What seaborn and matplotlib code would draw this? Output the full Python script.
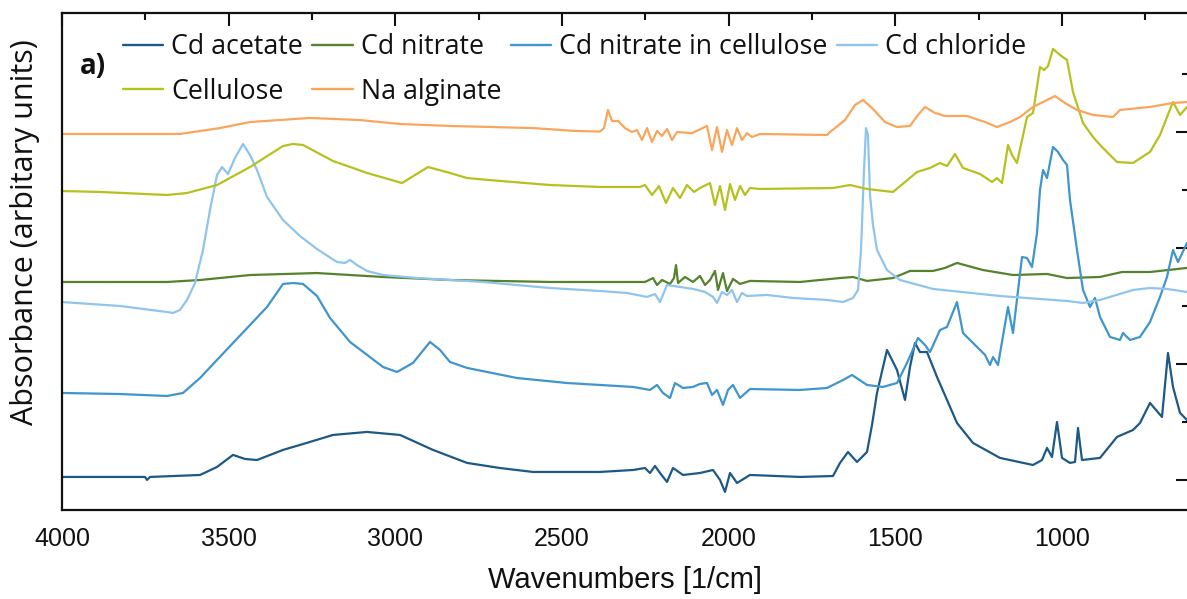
import matplotlib
matplotlib.use("Agg")
import matplotlib.pyplot as plt
from matplotlib.lines import Line2D
from matplotlib.ticker import FixedLocator, MultipleLocator
from matplotlib import font_manager
import numpy as np
import pandas as pd
import seaborn as sns

# ---------------- data ----------------
series_names = ["Cd acetate", "Cd nitrate", "Cd nitrate in cellulose",
                "Cd chloride", "Cellulose", "Na alginate"]
series_colors = ["#1d5987", "#55822c", "#3f95cc", "#8fc5ec", "#b6c11f", "#f9a65c"]

wn_acetate = [4000, 3886, 3751, 3745, 3736, 3586, 3535, 3487, 3451, 3415, 3337, 3286, 3187, 3085, 2986,
              2887, 2785, 2686, 2587, 2386, 2287, 2251, 2236, 2221, 2206, 2185, 2167, 2137, 2086, 2047,
              2026, 2011, 1996, 1975, 1936, 1786, 1687, 1666, 1642, 1615, 1585, 1570, 1555, 1525, 1495,
              1471, 1456, 1441, 1426, 1405, 1375, 1345, 1315, 1267, 1186, 1087, 1060, 1045, 1030, 1015,
              1000, 976, 961, 952, 940, 886, 835, 787, 766, 736, 700, 682, 667, 646, 625]
abs_acetate = [0.026, 0.026, 0.026, 0.0, 0.026, 0.043, 0.112, 0.216, 0.181, 0.172, 0.259, 0.302, 0.388, 0.414, 0.388,
               0.259, 0.147, 0.103, 0.069, 0.069, 0.086, 0.103, 0.06, 0.121, 0.06, -0.017, 0.103, 0.043, 0.06, 0.086,
               0.0, -0.103, 0.06, -0.026, 0.043, 0.026, 0.034, 0.147, 0.241, 0.155, 0.241, 0.474, 0.75, 1.121, 0.948,
               0.69, 0.974, 1.181, 1.103, 1.103, 0.888, 0.69, 0.491, 0.319, 0.19, 0.129, 0.172, 0.276, 0.198, 0.5,
               0.19, 0.147, 0.155, 0.448, 0.172, 0.19, 0.371, 0.431, 0.491, 0.664, 0.543, 1.095, 0.802, 0.578, 0.517]

wn_nitrate = [4000, 3685, 3586, 3436, 3235, 3037, 2836, 2536, 2251, 2227, 2215, 2200, 2176, 2164, 2158,
              2152, 2131, 2107, 2086, 2071, 2056, 2041, 2032, 2017, 2005, 1987, 1966, 1936, 1786, 1666,
              1627, 1585, 1507, 1456, 1387, 1351, 1315, 1237, 1147, 1045, 985, 886, 820, 736, 625]
abs_nitrate = [1.707, 1.707, 1.724, 1.767, 1.784, 1.75, 1.724, 1.707, 1.707, 1.741, 1.681, 1.724, 1.69, 1.741, 1.853,
               1.698, 1.75, 1.707, 1.759, 1.681, 1.724, 1.802, 1.638, 1.784, 1.629, 1.733, 1.69, 1.716, 1.707, 1.741,
               1.75, 1.716, 1.741, 1.802, 1.802, 1.828, 1.871, 1.81, 1.767, 1.776, 1.741, 1.75, 1.793, 1.793, 1.828]

wn_nitrate_cell = [4000, 3826, 3685, 3637, 3586, 3487, 3385, 3337, 3307, 3277, 3235, 3196, 3136, 3037, 2995,
                   2947, 2896, 2866, 2836, 2785, 2635, 2485, 2287, 2236, 2215, 2197, 2176, 2161, 2137, 2107,
                   2086, 2065, 2050, 2035, 2017, 2002, 1987, 1966, 1936, 1786, 1705, 1657, 1630, 1585, 1537,
                   1495, 1465, 1432, 1411, 1396, 1366, 1345, 1315, 1297, 1255, 1231, 1216, 1207, 1192, 1162,
                   1147, 1120, 1105, 1090, 1075, 1066, 1057, 1045, 1027, 1012, 997, 985, 976, 955, 937,
                   916, 901, 886, 856, 826, 817, 796, 766, 736, 706, 685, 667, 652, 625]
abs_nitrate_cell = [0.75, 0.741, 0.724, 0.75, 0.879, 1.181, 1.491, 1.69, 1.698, 1.69, 1.586, 1.397, 1.19, 0.974, 0.931,
                    1.009, 1.19, 1.121, 1.017, 0.966, 0.879, 0.836, 0.802, 0.776, 0.819, 0.75, 0.707, 0.836, 0.793, 0.802,
                    0.828, 0.836, 0.733, 0.776, 0.647, 0.776, 0.819, 0.707, 0.784, 0.776, 0.793, 0.862, 0.905, 0.819, 0.802,
                    0.836, 1.009, 1.224, 1.164, 1.103, 1.293, 1.319, 1.534, 1.267, 1.147, 1.078, 0.991, 1.06, 0.991, 1.491,
                    1.267, 1.922, 1.914, 1.836, 2.129, 2.5, 2.672, 2.603, 2.871, 2.828, 2.759, 2.716, 2.414, 1.983, 1.638,
                    1.491, 1.569, 1.405, 1.233, 1.207, 1.267, 1.207, 1.233, 1.362, 1.578, 1.75, 1.983, 1.879, 2.043]

wn_chloride = [4000, 3826, 3685, 3667, 3646, 3625, 3601, 3577, 3556, 3535, 3520, 3502, 3481, 3457, 3436,
               3415, 3385, 3337, 3286, 3235, 3175, 3151, 3136, 3115, 3085, 3037, 2935, 2737, 2536, 2386,
               2305, 2245, 2221, 2206, 2185, 2146, 2107, 2071, 2047, 2035, 2020, 2005, 1990, 1975, 1960,
               1945, 1885, 1807, 1705, 1657, 1627, 1612, 1603, 1594, 1588, 1582, 1576, 1567, 1555, 1525,
               1486, 1387, 1186, 985, 937, 886, 787, 736, 685, 625]
abs_chloride = [1.534, 1.5, 1.448, 1.44, 1.466, 1.552, 1.698, 1.983, 2.328, 2.629, 2.698, 2.638, 2.776, 2.897, 2.802,
                2.672, 2.44, 2.241, 2.103, 1.991, 1.879, 1.871, 1.897, 1.853, 1.802, 1.767, 1.741, 1.707, 1.655, 1.629,
                1.612, 1.578, 1.603, 1.534, 1.681, 1.664, 1.647, 1.621, 1.578, 1.526, 1.621, 1.595, 1.638, 1.534, 1.612,
                1.586, 1.595, 1.569, 1.552, 1.534, 1.569, 1.638, 1.983, 2.672, 3.034, 2.974, 2.457, 2.198, 1.983, 1.81,
                1.724, 1.647, 1.586, 1.543, 1.526, 1.552, 1.638, 1.655, 1.647, 1.621]

wn_cellulose = [4000, 3886, 3685, 3625, 3535, 3436, 3337, 3307, 3277, 3187, 3085, 2980, 2902, 2836, 2785,
                2686, 2536, 2386, 2266, 2251, 2230, 2209, 2188, 2167, 2146, 2125, 2104, 2086, 2056, 2041,
                2026, 2011, 1996, 1981, 1966, 1951, 1936, 1906, 1687, 1636, 1585, 1507, 1471, 1435, 1396,
                1366, 1345, 1321, 1297, 1246, 1210, 1195, 1180, 1162, 1150, 1135, 1105, 1087, 1066, 1054,
                1042, 1027, 1006, 985, 967, 937, 907, 886, 835, 787, 736, 706, 685, 667, 646, 625]
abs_cellulose = [2.491, 2.483, 2.457, 2.474, 2.543, 2.698, 2.879, 2.897, 2.888, 2.75, 2.647, 2.56, 2.698, 2.647, 2.603,
                 2.578, 2.543, 2.526, 2.526, 2.543, 2.457, 2.534, 2.388, 2.517, 2.431, 2.543, 2.483, 2.517, 2.56, 2.371,
                 2.534, 2.328, 2.552, 2.414, 2.534, 2.457, 2.517, 2.509, 2.517, 2.543, 2.509, 2.483, 2.569, 2.655, 2.69,
                 2.733, 2.707, 2.81, 2.69, 2.638, 2.569, 2.603, 2.56, 2.888, 2.802, 2.733, 3.129, 3.164, 3.56, 3.534,
                 3.569, 3.716, 3.664, 3.621, 3.345, 3.078, 2.957, 2.888, 2.741, 2.733, 2.828, 2.974, 3.129, 3.259, 3.147,
                 3.216]

wn_alginate = [4000, 3826, 3646, 3526, 3436, 3256, 3106, 2986, 2836, 2587, 2461, 2386, 2374, 2362, 2350,
               2332, 2311, 2290, 2275, 2260, 2245, 2230, 2215, 2200, 2185, 2170, 2155, 2110, 2065, 2050,
               2035, 2020, 2005, 1990, 1975, 1960, 1945, 1930, 1906, 1705, 1696, 1651, 1621, 1597, 1570,
               1531, 1495, 1456, 1432, 1411, 1381, 1351, 1285, 1231, 1195, 1156, 1126, 1087, 1051, 1021,
               991, 955, 907, 847, 826, 736, 667, 625]
abs_alginate = [2.983, 2.983, 2.983, 3.034, 3.086, 3.121, 3.103, 3.069, 3.052, 3.034, 3.009, 3.004, 3.034, 3.19, 3.095,
                3.095, 3.034, 3.0, 3.017, 2.931, 3.034, 2.914, 3.009, 2.966, 3.026, 2.931, 3.0, 2.99, 3.052, 2.845,
                3.043, 2.828, 3.017, 2.888, 3.034, 2.931, 2.99, 2.957, 2.983, 2.974, 3.0, 3.103, 3.233, 3.276, 3.207,
                3.086, 3.043, 3.052, 3.147, 3.216, 3.164, 3.138, 3.138, 3.086, 3.043, 3.086, 3.129, 3.216, 3.267, 3.31,
                3.25, 3.19, 3.147, 3.129, 3.19, 3.216, 3.25, 3.259]

x_major_ticks = [4000, 3500, 3000, 2500, 2000, 1500, 1000]
x_tick_labels = ["4000", "3500", "3000", "2500", "2000", "1500", "1000"]

# ---------------- build long table ----------------
frames = []
for name, wn, ab in zip(series_names,
                        [wn_acetate, wn_nitrate, wn_nitrate_cell, wn_chloride, wn_cellulose, wn_alginate],
                        [abs_acetate, abs_nitrate, abs_nitrate_cell, abs_chloride, abs_cellulose, abs_alginate]):
    frames.append(pd.DataFrame({"Wavenumber": wn, "Absorbance": ab, "Sample": name}))
df = pd.concat(frames, ignore_index=True)

# ---------------- style ----------------
sns.set_theme(style="white")


def has_font(name):
    try:
        font_manager.findfont(font_manager.FontProperties(family=name), fallback_to_default=False)
        return True
    except Exception:
        return False


narrow = "Liberation Sans Narrow" if has_font("Liberation Sans Narrow") else "Liberation Sans"
plt.rcParams["font.family"] = ["Open Sans", "DejaVu Sans"]
plt.rcParams["axes.linewidth"] = 1.6
plt.rcParams["axes.edgecolor"] = "#111111"

W, H = 1187, 599
fig = plt.figure(figsize=(W / 100, H / 100), dpi=100)
ax = fig.add_axes([62 / W, (H - 510) / H, 1127 / W, 497 / H])

sns.lineplot(data=df, x="Wavenumber", y="Absorbance", hue="Sample", hue_order=series_names,
             palette=series_colors, estimator=None, sort=False, linewidth=1.6, legend=False, ax=ax)

ax.set_xlim(4000, 619)
ax.set_ylim(-0.259, 4.026)

ax.xaxis.set_major_locator(FixedLocator(x_major_ticks))
ax.xaxis.set_minor_locator(MultipleLocator(250))
ax.yaxis.set_major_locator(FixedLocator([0, 1, 2, 3]))
ax.yaxis.set_minor_locator(FixedLocator([0.5, 1.5, 2.5, 3.5]))
ax.tick_params(which="both", direction="in", top=True, right=True, width=1.5, color="#111111")
ax.tick_params(which="major", length=9.5)
ax.tick_params(which="minor", length=4.8)
ax.tick_params(axis="y", labelleft=False)
ax.set_xticklabels(x_tick_labels, fontfamily=narrow, fontsize=18, color="#111111")
ax.tick_params(axis="x", pad=12)

for s in ax.spines.values():
    s.set_visible(True)
    s.set_linewidth(1.6)
    s.set_color("#111111")

ax.set_xlabel("Wavenumbers [1/cm]", fontfamily=narrow, fontsize=21, color="#111111", labelpad=11)
ax.set_ylabel("")
fig.text(25 / W, 1 - 232 / H, "Absorbance (arbitary units)", rotation=90, ha="center", va="center",
         fontsize=22, color="#111111")

fig.text(80 / W, 1 - 66 / H, "a)", fontsize=20, fontweight="bold", ha="left", va="center", color="#111111")

# legend: column-major order so that rows read as in the reference
order = [0, 4, 1, 5, 2, 3]
handles = [Line2D([], [], color=series_colors[i], lw=1.7) for i in order]
labels = [series_names[i] for i in order]
leg = ax.legend(handles, labels, ncol=4, loc="upper left",
                bbox_to_anchor=(123 / W, 1 - 33 / H), bbox_transform=fig.transFigure,
                frameon=False, fontsize=19.3, handlelength=1.5, handletextpad=0.3,
                columnspacing=0.35, labelspacing=0.62, borderpad=0, borderaxespad=0)
for t in leg.get_texts():
    t.set_color("#111111")

fig.savefig("out.png", dpi=100)
